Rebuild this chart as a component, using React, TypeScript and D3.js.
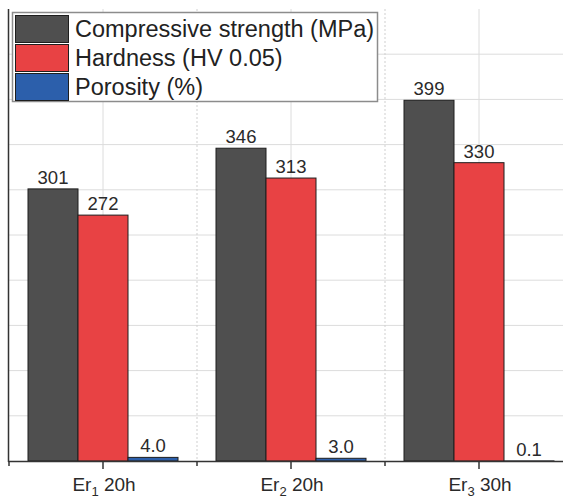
import React from "react";
import * as d3 from "d3";

const categories = ["Er1 20h", "Er2 20h", "Er3 30h"];
const catBase = ["Er", "Er", "Er"];
const catSub = ["1", "2", "3"];
const catTail = [" 20h", " 20h", " 30h"];
const seriesNames = ["Compressive strength (MPa)", "Hardness (HV 0.05)", "Porosity (%)"];
const compressive = [301, 346, 399];
const hardness = [272, 313, 330];
const porosity = [4.0, 3.0, 0.1];
const labelText = [
  ["301", "346", "399"],
  ["272", "313", "330"],
  ["4.0", "3.0", "0.1"],
];
const colors = ["#4f4f4f", "#e84244", "#2c5fab"];
const yTicks = [50, 100, 150, 200, 250, 300, 350, 400, 450];

const W = 563;
const H = 499;

export default function App() {
  const series = [compressive, hardness, porosity];
  const y = d3.scaleLinear().domain([0, 500]).range([461, 9]);
  const x = d3.scaleBand().domain(categories).range([9, 573]).paddingInner(0).paddingOuter(0);
  const inner = d3
    .scaleBand()
    .domain(seriesNames)
    .range([19, x.bandwidth() - 19]);
  const font = "'Liberation Sans', Arial, sans-serif";
  const boundaries = [0, 1, 2, 3].map((i) => 9 + i * x.bandwidth());

  return (
    <div style={{ position: "fixed", left: 0, top: 0 }}>
      <svg width={W} height={H} style={{ display: "block", background: "#fff" }}>
        {/* horizontal grid */}
        {yTicks.map((t) => (
          <line key={"g" + t} x1={9} x2={W} y1={y(t)} y2={y(t)} stroke="#dcdcdc" strokeWidth={1} />
        ))}
        {/* vertical grid */}
        {categories.map((c) => (
          <line
            key={"vg" + c}
            x1={x(c)! + x.bandwidth() / 2}
            x2={x(c)! + x.bandwidth() / 2}
            y1={9}
            y2={461}
            stroke="#dcdcdc"
            strokeWidth={1}
          />
        ))}
        {boundaries.slice(1).map((b) => (
          <line key={"db" + b} x1={b} x2={b} y1={9} y2={461} stroke="#cfcfcf" strokeWidth={1} strokeDasharray="2,2" />
        ))}
        {/* bars */}
        {series.map((vals, si) =>
          categories.map((c, ci) => {
            const bx = x(c)! + inner(seriesNames[si])!;
            const by = y(vals[ci]);
            return (
              <rect
                key={`b${si}-${ci}`}
                x={bx}
                y={by}
                width={inner.bandwidth()}
                height={461 - by}
                fill={colors[si]}
                stroke="#1e1e1e"
                strokeWidth={1}
              />
            );
          })
        )}
        {/* value labels */}
        {series.map((vals, si) =>
          categories.map((c, ci) => (
            <text
              key={`l${si}-${ci}`}
              x={x(c)! + inner(seriesNames[si])! + inner.bandwidth() / 2}
              y={y(vals[ci]) - 5}
              textAnchor="middle"
              fontFamily={font}
              fontSize={18.5}
              fill="#2a2a2a"
            >
              {labelText[si][ci]}
            </text>
          ))
        )}
        {/* axes */}
        <line x1={8.5} x2={8.5} y1={9} y2={462} stroke="#333" strokeWidth={1.5} />
        <line x1={8} x2={W} y1={461.5} y2={461.5} stroke="#333" strokeWidth={1.5} />
        {categories.map((c) => (
          <line
            key={"t" + c}
            x1={x(c)! + x.bandwidth() / 2}
            x2={x(c)! + x.bandwidth() / 2}
            y1={461}
            y2={469}
            stroke="#333"
            strokeWidth={1.5}
          />
        ))}
        {boundaries.map((b) => (
          <line key={"mt" + b} x1={b} x2={b} y1={461} y2={466} stroke="#333" strokeWidth={1.5} />
        ))}
        {categories.map((c, i) => (
          <text
            key={"cl" + c}
            x={x(c)! + x.bandwidth() / 2 + 1}
            y={491}
            textAnchor="middle"
            fontFamily={font}
            fontSize={19}
            fill="#2a2a2a"
          >
            {catBase[i]}
            <tspan fontSize={13} dy={5}>
              {catSub[i]}
            </tspan>
            <tspan dy={-5}>{catTail[i]}</tspan>
          </text>
        ))}
        {/* legend */}
        <rect x={12.5} y={12.5} width={365} height={89} fill="#fff" stroke="#8c8c8c" strokeWidth={1.5} />
        {seriesNames.map((s, i) => (
          <g key={"lg" + s} transform={`translate(15, ${15 + i * 29})`}>
            <rect x={0.5} y={0.5} width={53} height={27} fill={colors[i]} stroke="#1e1e1e" strokeWidth={1} />
            <text x={60} y={22} fontFamily={font} fontSize={23.5} fill="#222">
              {s}
            </text>
          </g>
        ))}
      </svg>
    </div>
  );
}
